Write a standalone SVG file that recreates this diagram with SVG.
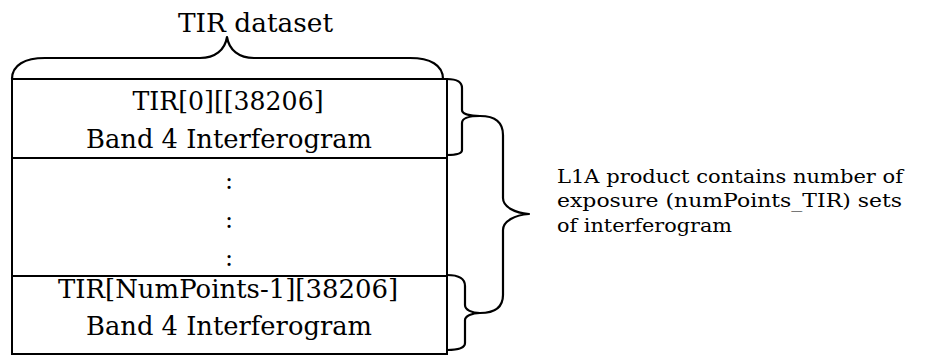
<svg xmlns="http://www.w3.org/2000/svg" width="949" height="356" viewBox="0 0 949 356">
<style>
.t{font-family:"DejaVu Serif","Liberation Serif",serif;font-size:25.5px;fill:#000;text-anchor:middle}
.d{font-family:"DejaVu Serif","Liberation Serif",serif;font-size:24px;fill:#000;text-anchor:middle}
.s{font-family:"DejaVu Serif","Liberation Serif",serif;font-size:18px;fill:#000}
.b{fill:none;stroke:#000;stroke-width:2}
.br{fill:none;stroke:#000;stroke-width:2.2;stroke-linejoin:round}
</style>
<rect width="949" height="356" fill="#fff"/>
<g id="title"><text class="t" x="178" y="32" style="text-anchor:start" textLength="155" lengthAdjust="spacingAndGlyphs">TIR dataset</text></g>
<g id="row-first">
<rect class="b" x="12" y="79" width="435" height="79"/>
<text class="t" x="228" y="110" textLength="191" lengthAdjust="spacingAndGlyphs">TIR[0][[38206]</text>
<text class="t" x="229" y="148" textLength="286" lengthAdjust="spacingAndGlyphs">Band 4 Interferogram</text>
</g>
<g id="row-middle">
<rect class="b" x="12" y="158" width="435" height="118"/>
<text class="d" x="229" y="189">:</text>
<text class="d" x="229" y="228">:</text>
<text class="d" x="229" y="266">:</text>
</g>
<g id="row-last">
<rect class="b" x="12" y="276" width="435" height="78"/>
<text class="t" x="228" y="298" textLength="340" lengthAdjust="spacingAndGlyphs">TIR[NumPoints-1][38206]</text>
<text class="t" x="229" y="335" textLength="286" lengthAdjust="spacingAndGlyphs">Band 4 Interferogram</text>
</g>
<g id="note">
<text class="s" x="557" y="183" textLength="346" lengthAdjust="spacingAndGlyphs">L1A product contains number of</text>
<text class="s" x="557" y="207" textLength="345" lengthAdjust="spacingAndGlyphs">exposure (numPoints_TIR) sets</text>
<text class="s" x="557" y="232" textLength="175" lengthAdjust="spacingAndGlyphs">of interferogram</text>
</g>
<g id="connectors">
<path class="br" d="M12,79 C12,65 25,58 45,58 L200,58 C215,58 225,50 227,37 C229,50 239,58 254,58 L410,58 C430,58 443,65 443,79"/>
<path class="br" d="M447,79 C456,79 462,81 462,88 L462,110 C462,114 470,116 480,116 C470,116 462,118 462,123 L462,150 C462,154 456,155 447,155"/>
<path class="br" d="M480,116 C495,116 503,122 503,135 L503,198 C503,207 515,213 529,214 C515,215 503,221 503,230 L503,295 C503,307 495,313 480,313"/>
<path class="br" d="M447,275 C458,275 465,278 465,286 L465,305 C465,310 472,313 480,313 C472,313 465,316 465,320 L465,343 C465,348 458,350 447,350"/>
</g>
</svg>
